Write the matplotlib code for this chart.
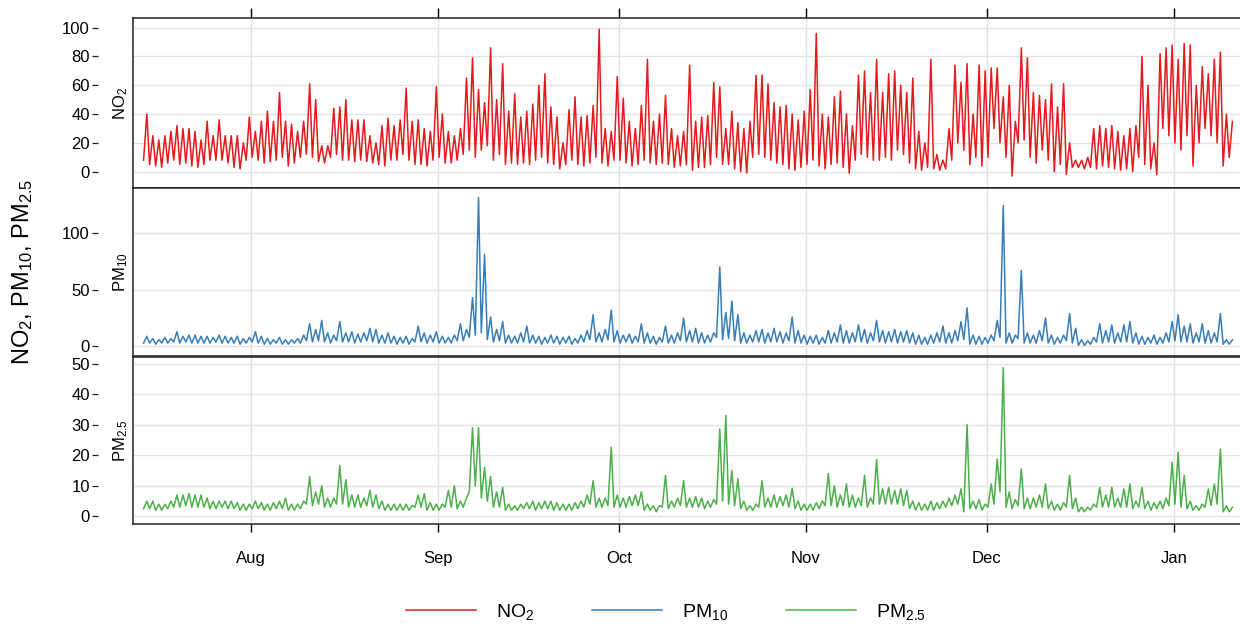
#!/usr/bin/env python3
# -*- coding: utf-8 -*-
"""Time series of NO2, PM10 and PM2.5 (daily low / high read off the hourly plot)."""

import numpy as np
import pandas as pd
import matplotlib
matplotlib.use('Agg')
import matplotlib.pyplot as plt
import matplotlib.dates as mdates

matplotlib.rcParams['font.family'] = ['Liberation Sans', 'DejaVu Sans']
matplotlib.rcParams['mathtext.default'] = 'regular'

# ---- data: one low and one high per day, starting 2019-07-14 ----
start_date = '2019-07-14'

no2_hi = [40, 25, 22, 25, 28, 32, 30, 30, 28, 22, 35, 25, 36, 25, 25, 25, 20, 38, 28, 35,
          42, 35, 55, 35, 33, 28, 35, 61, 50, 18, 18, 44, 45, 50, 36, 36, 36, 25, 20, 32,
          37, 32, 36, 58, 35, 36,
          30, 28, 59, 40, 28, 25, 30, 65, 79, 57, 48, 86, 50, 75, 42, 54, 38, 42, 47, 60,
          68, 45, 38, 20, 43, 52, 38, 39, 46, 99, 30, 28, 66, 51, 35, 30, 46, 78, 35, 40,
          53, 30, 25, 28, 74, 35, 38,
          39, 62, 59, 30, 42, 34, 30, 35, 67, 67, 61, 48, 45, 46, 40, 36, 42, 57, 96, 40,
          38, 52, 56, 40, 32, 67, 70, 55, 78, 55, 68, 70, 60, 55, 65, 28, 20, 78, 12, 8,
          30, 74, 62, 75, 40, 74,
          70, 72, 72, 52, 60, 35, 86, 79, 55, 53, 50, 61, 45, 61, 20, 8, 8, 10, 30, 32,
          30, 32, 28, 25, 30, 32, 80, 60, 20, 82, 86, 88, 78, 89, 88, 60, 73, 68, 78, 83,
          40, 35]
no2_lo = [8, 5, 4, 3, 6, 8, 5, 6, 4, 3, 5, 8, 8, 8, 6, 3, 2, 8, 10, 8,
          6, 7, 8, 10, 4, 6, 10, 12, 10, 7, 6, 10, 12, 8, 8, 7, 8, 7, 6, 5,
          4, 8, 8, 12, 8, 5,
          5, 4, 8, 10, 6, 6, 8, 12, 15, 10, 15, 18, 8, 12, 5, 6, 5, 6, 5, 8,
          10, 6, 5, 2, 5, 8, 5, 4, 6, 10, 6, 4, 8, 8, 6, 4, 5, 8, 6, 5,
          6, 5, 3, 4, 5, 1, 3,
          3, 5, 10, 5, 5, 2, 0, -1, 10, 12, 10, 8, 6, 5, 2, 1, 3, 5, 8, 4,
          2, 5, 6, 3, -1, 8, 12, 10, 8, 8, 10, 8, 15, 12, 6, 2, 1, 3, 2, 1,
          2, 8, 20, 15, 5, 10,
          4, 10, 30, 20, 10, -3, 20, 22, 10, 6, 15, 8, 0, 5, -2, 3, 3, 2, 3, 2,
          4, 3, 2, 1, 2, 0, 10, 5, 2, -2, 30, 25, 20, 15, 25, 4, 20, 30, 25, 20,
          4, 10]

pm10_hi = [9, 7, 6, 8, 7, 13, 9, 10, 10, 9, 9, 8, 10, 9, 8, 9, 7, 8, 13, 9,
           7, 6, 8, 6, 6, 7, 10, 20, 15, 23, 12, 10, 22, 12, 13, 11, 12, 16, 15, 10,
           12, 9, 8, 9, 7, 18, 12, 10, 13, 9, 8, 10, 20, 15, 43, 131, 81, 26, 15, 22,
           10, 9, 12, 18, 10, 9, 8, 10, 9, 8, 9, 7, 10, 14, 28, 12, 15, 32, 14, 10,
           11, 9, 20, 12, 9, 8, 18, 10, 12, 25, 14, 16, 12, 10, 12, 70, 30, 40, 28, 12,
           10, 14, 15, 12, 16, 13, 12, 26, 14, 10, 9, 10, 8, 14, 12, 19, 14, 12, 19, 15,
           12, 23, 14, 13, 15, 13, 14, 12, 10, 8, 10, 12, 18, 12, 14, 22, 34, 10, 9, 8,
           10, 23, 124, 12, 10, 67, 12, 10, 14, 25, 10, 8, 10, 29, 16, 6, 5, 8, 20, 14,
           19, 12, 19, 22, 12, 9, 8, 10, 8, 12, 22, 28, 18, 20, 12, 20, 14, 12, 29, 6,
           6]
pm10_lo = [3, 3, 2, 3, 3, 4, 3, 4, 3, 3, 3, 3, 4, 3, 3, 3, 2, 3, 4, 3,
           2, 2, 3, 2, 2, 3, 3, 5, 4, 5, 4, 3, 5, 4, 4, 3, 4, 5, 4, 3,
           3, 3, 2, 3, 2, 4, 4, 3, 4, 3, 3, 3, 5, 5, 8, 10, 12, 6, 4, 5,
           3, 3, 3, 4, 3, 3, 2, 3, 3, 2, 3, 2, 3, 4, 6, 4, 4, 6, 4, 3,
           4, 3, 4, 3, 3, 2, 4, 3, 3, 5, 4, 4, 3, 3, 4, 8, 6, 7, 5, 3,
           3, 4, 4, 3, 4, 4, 3, 5, 3, 3, 2, 3, 2, 3, 3, 4, 3, 3, 4, 4,
           3, 5, 4, 3, 4, 3, 4, 3, 2, 2, 2, 3, 4, 3, 3, 5, 6, 2, 2, 2,
           3, 5, 8, 3, 3, 7, 3, 3, 3, 5, 3, 2, 3, 5, 3, 1, 1, 2, 4, 3,
           4, 3, 4, 4, 3, 2, 2, 3, 2, 3, 4, 5, 4, 4, 3, 4, 3, 3, 4, 2,
           2]

pm25_hi = [5, 5, 4, 4, 5, 7, 7, 7.5, 7, 7, 6, 5, 5, 5, 5, 4.5, 4, 4, 5, 4.5,
           4, 4.5, 5, 6, 4, 4, 5, 13, 8, 10, 6, 6, 16.6, 12, 7, 7, 6, 8.5, 7, 5,
           4, 4, 4, 4, 3.5, 7, 7.4, 4.5, 4, 4, 8.5, 10, 5, 6, 29, 29, 16, 13, 8, 9.5,
           4, 3.5, 4, 4.5, 5, 4.5, 5, 5, 4.5, 4, 4, 4.5, 5, 7, 11.7, 6, 6, 22.6, 7, 6,
           6.5, 7, 8, 4, 3.5, 3.5, 13.4, 5, 6, 11.7, 6, 6.5, 6, 5, 5.5, 28.6, 33, 15, 12.3, 5,
           3.5, 4, 11.7, 6, 7, 6.5, 7, 9.2, 5, 4, 4, 4.5, 5, 14, 10, 7, 10.6, 7, 6, 13.4,
           6, 18.6, 9, 9.5, 8.5, 9, 8.5, 5, 4.5, 4, 5, 4.5, 5, 6, 7, 9, 30, 5, 5.5, 4,
           10.6, 18.8, 48.7, 8, 5.5, 15.5, 6, 6, 7, 10.6, 5, 4, 4.5, 13.4, 6, 3, 3, 4, 9.5, 7,
           9.5, 6, 9, 10.6, 5, 9.5, 5, 4.5, 5, 6, 17.7, 21, 13.4, 5, 3.5, 4, 9, 10.6, 22, 3.5,
           3]
pm25_lo = [2.5, 2.5, 2, 2, 2.5, 3, 3, 3.5, 3, 3, 3, 2.5, 2.5, 3, 2.5, 2.5, 2, 2, 2.5, 2.5,
           2, 2, 2.5, 2.5, 2, 2, 2.5, 4, 3.5, 4, 3, 3, 4, 4, 3, 3, 3, 3.5, 3, 2.5,
           2, 2, 2, 2, 2, 3, 3, 2, 2, 2, 3, 3, 2.5, 3, 8, 10, 6, 5, 3, 3,
           2, 2, 2, 2.5, 2.5, 2, 2.5, 2.5, 2, 2, 2, 2, 2.5, 3, 4, 3, 3, 3.5, 3, 3,
           3, 3.5, 3.5, 2, 2, 1.5, 3, 2.5, 3, 3.5, 3, 3, 3, 2.5, 3, 4, 5, 4, 3.5, 2.5,
           2, 2, 3, 3, 3, 3, 3.5, 3, 2.5, 2, 2, 2, 2.5, 3.5, 3.5, 3, 3.5, 3, 3, 3.5,
           3, 4, 4, 4, 4, 4, 3.5, 2.5, 2, 2, 2, 2, 2.5, 3, 3.5, 4, 1.5, 2.5, 2.5, 2,
           3, 4, 8, 3, 2.5, 3.5, 2.5, 2.5, 3, 3, 2.5, 2, 2, 3, 2.5, 1.5, 1.5, 2, 3, 3,
           3, 3, 3, 3, 2.5, 3, 2.5, 2, 2.5, 2.5, 3.5, 4, 3, 2.5, 2, 2, 3, 3.5, 4, 1.5,
           1.5]

series_labels = [r'NO$_2$', r'PM$_{10}$', r'PM$_{2.5}$']
series_colors = ['#E41A1C', '#377EB8', '#4DAF4A']
y_ticks = [[0, 20, 40, 60, 80, 100], [0, 50, 100], [0, 10, 20, 30, 40, 50]]
y_limits = [(-11.1, 106.5), (-8.8, 139.7), (-2.4, 52.3)]


def to_hourly_like(lo, hi):
    """daily low at 04:00 and daily high at 17:00, interleaved"""
    days = pd.date_range(start_date, periods=len(hi), freq='D')
    t = np.column_stack((days + pd.Timedelta(hours=4),
                         days + pd.Timedelta(hours=17))).ravel()
    v = np.column_stack((lo, hi)).ravel()
    return pd.to_datetime(t), v


series = [to_hourly_like(no2_lo, no2_hi),
          to_hourly_like(pm10_lo, pm10_hi),
          to_hourly_like(pm25_lo, pm25_hi)]

fig = plt.figure(figsize=(12.4, 6.27), dpi=100)

# panel boxes in pixels (top, bottom)
W, H = 1240.0, 627.0
left_px, right_px = 133, 1242
panel_px = [(18.3, 187.7), (187.7, 356.5), (356.5, 523.7)]

xmin = pd.Timestamp('2019-07-12 10:00')
xmax = pd.Timestamp('2020-01-12 07:00')

lines = []
for i, ((top, bot), (t, v)) in enumerate(zip(panel_px, series)):
    ax = fig.add_axes([left_px / W, 1 - bot / H, (right_px - left_px) / W, (bot - top) / H])
    ln, = ax.plot(t, v, color=series_colors[i], linewidth=1.1)
    lines.append(ln)

    ax.set_xlim(xmin, xmax)
    ax.set_ylim(*y_limits[i])
    ax.set_yticks(y_ticks[i])
    ax.xaxis.set_major_locator(mdates.MonthLocator())
    ax.xaxis.set_major_formatter(mdates.DateFormatter('%b'))
    ax.grid(True, color='#e3e3e3', linewidth=1.0)
    ax.set_axisbelow(True)

    for s in ax.spines.values():
        s.set_linewidth(1.1)
        s.set_color('#222222')
    # y axis sits left of the strip
    ax.spines['left'].set_position(('outward', 25))
    ax.spines['left'].set_visible(False)
    ax.plot([0, 0], [0, 1], transform=ax.transAxes, color='#222222',
            linewidth=1.1, clip_on=False)
    ax.tick_params(axis='y', direction='out', length=4, width=0.9,
                   labelsize=12, pad=2, colors='#222222', labelcolor='black')

    if i == 0:
        ax.tick_params(axis='x', which='both', bottom=False, top=True,
                       labelbottom=False, labeltop=False, direction='out',
                       length=7, width=1.0)
    elif i == 2:
        ax.tick_params(axis='x', which='both', bottom=True, top=False,
                       direction='out', length=6, width=1.0, labelsize=12, pad=14)
    else:
        ax.tick_params(axis='x', which='both', bottom=False, top=False,
                       labelbottom=False)

    # strip label
    ax.text(-0.011, 0.5, series_labels[i], transform=ax.transAxes, rotation=90,
            ha='center', va='center', fontsize=12)

fig.text(0.018, 0.566, r'NO$_2$, PM$_{10}$, PM$_{2.5}$', rotation=90,
         ha='center', va='center', fontsize=17)

fig.legend(lines, series_labels, loc='center', bbox_to_anchor=(0.537, 0.024),
           ncol=3, frameon=False, handlelength=3.6, handletextpad=1.0,
           columnspacing=3.0, fontsize=14)

plt.savefig('out.png', dpi=100)
